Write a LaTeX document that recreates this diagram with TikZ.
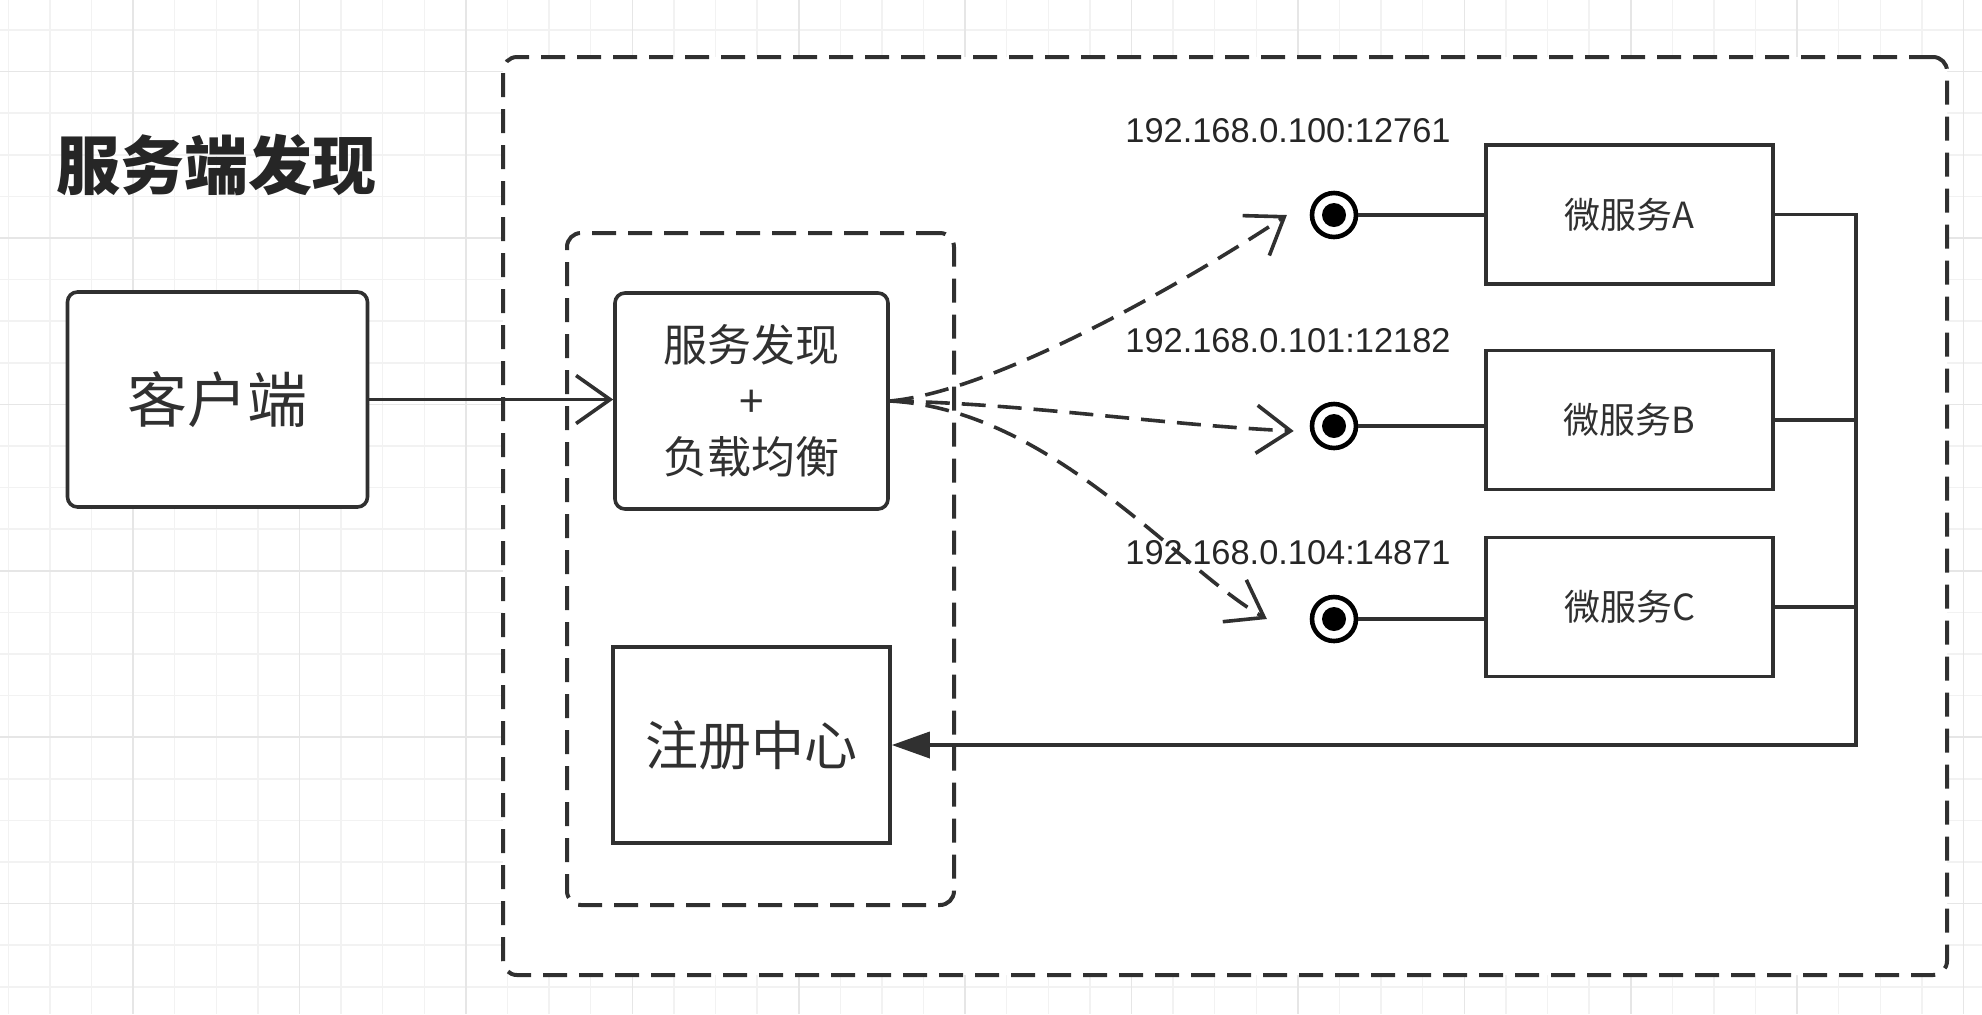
\documentclass[tikz,border=0pt]{standalone}
\usepackage{fontspec}
\setmainfont{Liberation Sans}
\newfontfamily\cjk{Noto Sans CJK SC}
\usetikzlibrary{arrows.meta}
\definecolor{ink}{HTML}{303030}
\definecolor{gridminor}{HTML}{F2F2F2}
\definecolor{gridmajor}{HTML}{E6E6E6}

\begin{document}
\begin{tikzpicture}[x=0.5pt,y=-0.5pt,>={Straight Barb[length=17pt,width=24pt]},
  box/.style={draw=ink,line width=1.8pt,fill=white,text=ink,inner sep=0pt,font=\cjk},
  rbox/.style={box,rounded corners=5pt},
  group/.style={draw=ink,line width=2pt,dash pattern=on 12pt off 6pt,rounded corners=7pt,inner sep=0pt},
  port/.style={circle,draw=black,line width=2.3pt,fill=white,minimum size=22pt,inner sep=0pt,
    path picture={\fill[black] (path picture bounding box.center) circle (6pt);}},
  ip/.style={text=black!85,font=\fontsize{17.2}{20}\selectfont},
  link/.style={draw=ink,line width=1.8pt},
  call/.style={link,dash pattern=on 12pt off 6pt,->},
]
  \fill[white] (0,0) rectangle (1982,1014);
  \useasboundingbox (0,0) rectangle (1982,1014);

  % grid
  \foreach \i in {0,...,47} \draw[gridminor,line width=0.75pt] ({8.3+41.6*\i},0) -- ++(0,1014);
  \foreach \j in {0,...,24} \draw[gridminor,line width=0.75pt] (0,{30+41.6*\j}) -- ++(1982,0);
  \foreach \i in {-1,...,11} \draw[gridmajor,line width=0.8pt] ({133.1+166.4*\i},0) -- ++(0,1014);
  \foreach \j in {0,...,5} \draw[gridmajor,line width=0.8pt] (0,{71.6+166.4*\j}) -- ++(1982,0);

  \node[group,fill=white,minimum width=722pt,minimum height=459pt] (server) at (1225,516) {};
  \node[group,minimum width=193.5pt,minimum height=336pt] (lb) at (760.5,569) {};

  \node[font=\cjk\bfseries\fontsize{32}{36}\selectfont,text=black!85] (title) at (216,165) {服务端发现};

  \node[rbox,minimum width=150pt,minimum height=107.5pt,font=\cjk\fontsize{30}{36}\selectfont] (client) at (217.5,399.5) {客户端};
  \node[rbox,minimum width=136.5pt,minimum height=108pt,align=center,font=\cjk\fontsize{22}{28}\selectfont] (discovery) at (751.5,401) {服务发现\\+\\负载均衡};
  \node[box,minimum width=138.5pt,minimum height=98pt,font=\cjk\fontsize{26.5}{30}\selectfont] (registry) at (751.5,745) {注册中心};

  \node[box,minimum width=143.5pt,minimum height=69.5pt,font=\cjk\fontsize{18}{22}\selectfont] (svcA) at (1629.5,214.5) {微服务A};
  \node[box,minimum width=143.5pt,minimum height=69.5pt,font=\cjk\fontsize{18}{22}\selectfont] (svcB) at (1629.5,420) {微服务B};
  \node[box,minimum width=143.5pt,minimum height=69.5pt,font=\cjk\fontsize{18}{22}\selectfont] (svcC) at (1629.5,607) {微服务C};

  \node[port] (portA) at (1334,215) {};
  \node[port] (portB) at (1334,426) {};
  \node[port] (portC) at (1334,619) {};

  \node[ip] (ipA) at (1288,131) {192.168.0.100:12761};
  \node[ip] (ipB) at (1288,341) {192.168.0.101:12182};
  \node[ip] (ipC) at (1288,553) {192.168.0.104:14871};

  \coordinate (bus) at (1856,745);

  \draw[link,->] (client.east) -- (client.east -| discovery.west);

  \draw[call] (discovery.east) .. controls +(111,-10) and +(-84,56) .. ([xshift=-11.4pt]portA.west);
  \draw[call] (discovery.east) .. controls +(130,2) and +(-130,-6) .. ([xshift=-8pt,yshift=-2.5pt]portB.west);
  \draw[call] (discovery.east) .. controls +(161,8) and +(-87,-49) .. ([xshift=-21.4pt]portC.west);

  \path[link] (portA) edge (portA -| svcA.west)
              (portB) edge (portB -| svcB.west)
              (portC) edge (portC -| svcC.west);

  \draw[link,-{Triangle[length=19pt,width=13pt]}] (svcA.east) -| (bus) -- (registry.east);
  \draw[link] (svcB.east) -- (svcB.east -| bus)
              (svcC.east) -- (svcC.east -| bus);
\end{tikzpicture}
\end{document}
